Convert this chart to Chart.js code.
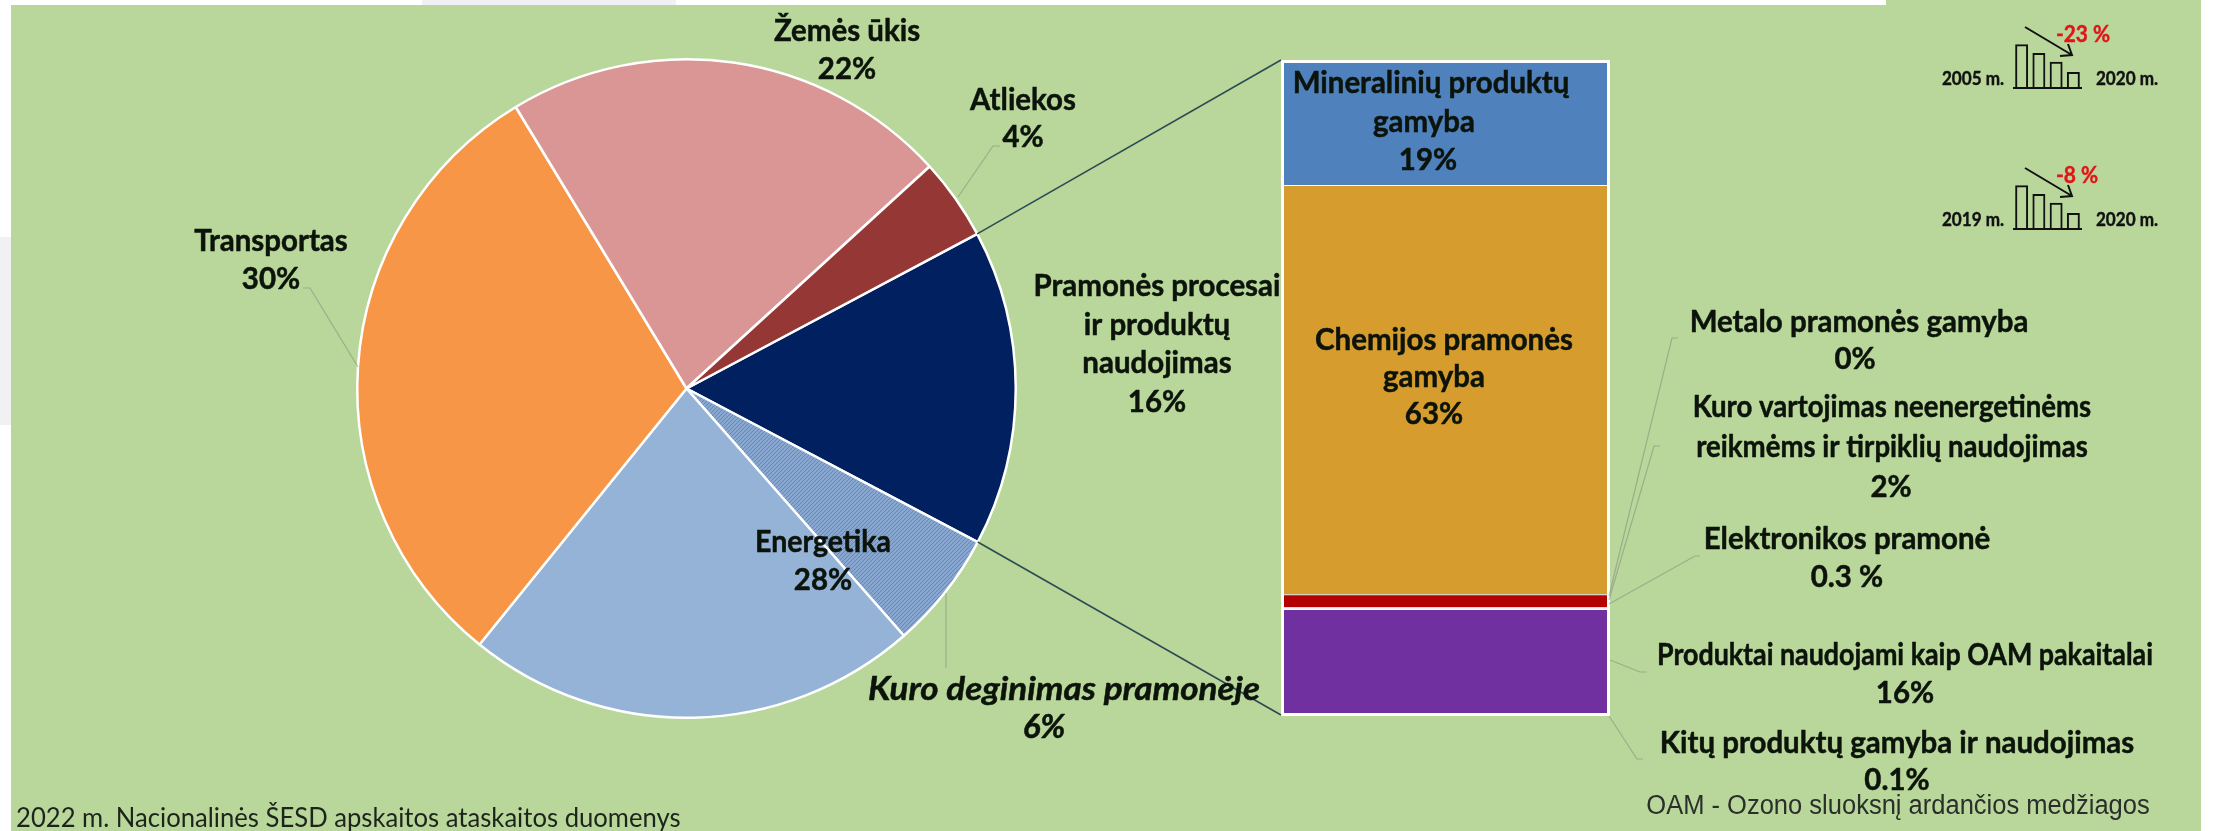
<!DOCTYPE html>
<html lang="lt">
<head>
<meta charset="utf-8">
<title>ŠESD</title>
<script src="https://cdn.jsdelivr.net/npm/chart.js@4"></script>
<style>
html,body{margin:0;padding:0;background:#fff;width:2213px;height:831px;overflow:hidden}
.abs{position:absolute}
canvas{position:absolute}
</style>
</head>
<body>
<div class="abs" style="left:422px;top:0;width:254px;height:5px;background:#f1f1f3"></div>
<div class="abs" style="left:0;top:237px;width:11px;height:188px;background:#f1f1f3"></div>
<div class="abs" style="left:11px;top:5px;width:2190px;height:826px;background:#b9d79a"></div>
<div class="abs" style="left:1886px;top:0;width:315px;height:5px;background:#b9d79a"></div>
<canvas id="bar" style="left:1280px;top:59px" width="331" height="658"></canvas>
<canvas id="icon1" style="left:2010px;top:40px" width="75" height="50"></canvas>
<canvas id="icon2" style="left:2010px;top:181px" width="75" height="50"></canvas>
<canvas id="pie" style="left:0;top:0" width="2213" height="831"></canvas>
<script>
// ---- Data ----
const pieCategories = ['Pramonės procesai ir produktų naudojimas', 'Kuro deginimas pramonėje', 'Energetika', 'Transportas', 'Žemės ūkis', 'Atliekos'];
const pieValues = [15.5, 5.8, 22.3, 30.5, 21.9, 4.0];
const pieColors = ['#002060', null, '#95b3d7', '#f79646', '#d99694', '#953735'];

const barCategories = ['Kitų produktų gamyba ir naudojimas', 'Produktai naudojami kaip OAM pakaitalai', 'Elektronikos pramonė', 'Kuro vartojimas neenergetinėms reikmėms ir tirpiklių naudojimas', 'Metalo pramonės gamyba', 'Chemijos pramonės gamyba', 'Mineralinių produktų gamyba'];
const barValues = [0.1, 16, 0.3, 2, 0, 63, 19];
const barColors = ['#ffffff', '#7030a0', '#fdf2f4', '#b30000', '#808080', '#d69c2d', '#4f81bd'];

const iconBars = [137, 109, 82, 50];
const iconLabels = ['a', 'b', 'c', 'd'];

const footerText = '2022 m. Nacionalinės ŠESD apskaitos ataskaitos duomenys';
const noteText = 'OAM - Ozono sluoksnį ardančios medžiagos';

// ---- Label layout ----
const BOLD = 'bold 31px Lato';
const boldLabels = [
  {cx:[847],ys:[31,69],   lines:['Žemės ūkis','22%']},
  {cx:[1023],ys:[100,137], lines:['Atliekos','4%']},
  {cx:[271], ys:[241,279], lines:['Transportas','30%']},
  {cx:[1157],ys:[286,325,363,402], lines:['Pramonės procesai','ir produktų','naudojimas','16%']},
  {cx:[823,823],ys:[542,580], lines:['Energetika','28%'],hs:.92},
  {cx:[1431,1424,1428],ys:[83,122,160], lines:['Mineralinių produktų','gamyba','19%']},
  {cx:[1444,1434,1434],ys:[340,377,414], lines:['Chemijos pramonės','gamyba','63%']},
  {cx:[1859,1855],ys:[322,359], lines:['Metalo pramonės gamyba','0%']},
  {cx:[1892,1892,1891],ys:[407,447,487], lines:['Kuro vartojimas neenergetinėms','reikmėms ir tirpiklių naudojimas','2%'],hs:.89},
  {cx:[1847],ys:[539,577], lines:['Elektronikos pramonė','0.3 %']},
  {cx:[1905],ys:[655,693], lines:['Produktai naudojami kaip OAM pakaitalai','16%'],hs:.865},
  {cx:[1897],ys:[743,780], lines:['Kitų produktų gamyba ir naudojimas','0.1%']}
];
const leaders = [
  [[303,288],[310,288],[358,367]],
  [[1000,146],[993,146],[958,197]],
  [[946,593],[946,668]],
  [[1678,338],[1672,338],[1609,596]],
  [[1660,446],[1654,446],[1609,600]],
  [[1700,556],[1695,556],[1609,604]],
  [[1647,672],[1640,672],[1610,660]],
  [[1643,759],[1637,759],[1609,716]]
];
const iconTexts = [
  {t:'2005 m.',x:1973,y:79},{t:'2020 m.',x:2127,y:79},
  {t:'2019 m.',x:1973,y:220},{t:'2020 m.',x:2127,y:220}
];
const iconDeltas = [{t:'-23 %',x:2083,y:35},{t:'-8 %',x:2077,y:176}];
const iconArrows = [[2025,27,2072,55],[2025,168,2072,196]];

// ---- Hatch for the fuel combustion slice ----
function hatch(){
  const c=document.createElement('canvas');c.width=4;c.height=4;
  const g=c.getContext('2d');
  g.fillStyle='#88a7d0';g.fillRect(0,0,4,4);
  g.fillStyle='#6488bc';
  [[0,3],[1,2],[2,1],[3,0]].forEach(p=>g.fillRect(p[0],p[1],1,1));
  return g.createPattern(c,'repeat');
}

Chart.defaults.animation=false;
Chart.defaults.responsive=false;

// ---- Stacked bar ----
const barChart=new Chart(document.getElementById('bar'),{
  type:'bar',
  data:{labels:['Pramonės procesai'],datasets:barCategories.map((n,i)=>({
    label:n,data:[barValues[i]],backgroundColor:barColors[i],
    borderColor:'#ffffff',borderWidth:barValues[i]>=1?1:0,
    barPercentage:1,categoryPercentage:1
  }))},
  options:{
    layout:{padding:3},
    plugins:{legend:{display:false},tooltip:{enabled:false}},
    scales:{
      x:{stacked:true,display:false},
      y:{stacked:true,display:false,min:0,max:barValues.reduce((a,b)=>a+b,0)}
    }
  },
  plugins:[{id:'frame',afterDraw(ch){
    const a=ch.chartArea,c=ch.ctx;
    c.save();c.strokeStyle='#ffffff';c.lineWidth=3;
    c.strokeRect(a.left-.5,a.top-.5,a.width+1,a.height+1);c.restore();
  }}]
});

// ---- Small icon bars ----
['icon1','icon2'].forEach(id=>new Chart(document.getElementById(id),{
  type:'bar',
  data:{labels:iconLabels,datasets:[{data:iconBars,backgroundColor:'rgba(0,0,0,0)',borderColor:'#111',borderWidth:2,barPercentage:.75,categoryPercentage:1}]},
  options:{
    layout:{padding:{left:3,right:3,top:0,bottom:2}},
    plugins:{legend:{display:false},tooltip:{enabled:false}},
    scales:{x:{display:false},y:{display:false,min:0,max:150}}
  },
  plugins:[{id:'base',afterDraw(ch){
    const a=ch.chartArea,c=ch.ctx;
    c.save();c.strokeStyle='#111';c.lineWidth=2;c.beginPath();c.moveTo(a.left,a.bottom);c.lineTo(a.right,a.bottom);c.stroke();c.restore();
  }}]
}));

// ---- Text helper ----
function txt(c,t,cx,cy,font,color,hs,align,heavy){
  c.save();c.font=font;c.fillStyle=color;c.textAlign=align||'center';c.textBaseline='middle';
  c.translate(cx,cy);c.scale(hs,1);
  if(heavy){c.strokeStyle=color;c.lineWidth=heavy;c.lineJoin='round';c.strokeText(t,0,0);}
  c.fillText(t,0,0);c.restore();
}

// ---- Annotations on top ----
const annotate={id:'annotate',afterDraw(ch){
  const c=ch.ctx,arcs=ch.getDatasetMeta(0).data;
  c.save();
  // leaders
  c.strokeStyle='rgba(130,140,125,.55)';c.lineWidth=1.2;
  leaders.forEach(l=>{c.beginPath();l.forEach((p,i)=>i?c.lineTo(p[0],p[1]):c.moveTo(p[0],p[1]));c.stroke();});
  // zoom connectors from the industrial slice to the bar
  const cv=document.getElementById('bar'),oX=parseFloat(cv.style.left),oY=parseFloat(cv.style.top),ba=barChart.chartArea;
  const a0=arcs[0];
  const pts=[[a0.startAngle,ba.top-2],[a0.endAngle,ba.bottom+1]];
  c.strokeStyle='#2c4b52';c.lineWidth=1.6;
  pts.forEach(p=>{
    c.beginPath();
    c.moveTo(a0.x+Math.cos(p[0])*a0.outerRadius,a0.y+Math.sin(p[0])*a0.outerRadius);
    c.lineTo(oX+ba.left-2,oY+p[1]);c.stroke();
  });
  // bold labels
  boldLabels.forEach(b=>b.lines.forEach((t,i)=>{
    const s=t.length>4?(b.hs||.95):.95;
    txt(c,t,b.cx[i]===undefined?b.cx[0]:b.cx[i],b.ys[i],BOLD,'#0b130b',s,'center',.5);
  }));
  txt(c,'Kuro deginimas pramonėje',1064,689,'italic bold 33px Lato','#0b130b',1.06,'center',.5);
  txt(c,'6%',1044,727,'italic bold 33px Lato','#0b130b',1,'center',.5);
  txt(c,footerText,16,818,'27px Lato','#1c241c',.95,'left');
  txt(c,noteText,1898,807,'27px "Liberation Sans"','#2b2f2b',.945);
  // icons
  iconTexts.forEach(o=>txt(c,o.t,o.x,o.y,'bold 18px Lato','#111',.95,'center',.4));
  iconDeltas.forEach(o=>txt(c,o.t,o.x,o.y,'bold 22px Lato','#e2141a',.95,'center',.4));
  c.strokeStyle='#111';c.lineWidth=2;
  iconArrows.forEach(a=>{
    c.beginPath();c.moveTo(a[0],a[1]);c.lineTo(a[2],a[3]);
    c.moveTo(a[2]-4,a[3]-11);c.lineTo(a[2],a[3]);c.lineTo(a[2]-12,a[3]+1);c.stroke();
  });
  c.restore();
}};

// ---- Pie ----
const colors=pieColors.slice();colors[1]=hatch();
new Chart(document.getElementById('pie'),{
  type:'pie',
  data:{labels:pieCategories,datasets:[{data:pieValues,backgroundColor:colors,borderColor:'#ffffff',borderWidth:2.5,borderAlign:'center',hoverOffset:0}]},
  options:{
    rotation:62,
    layout:{padding:{left:356,right:1196,top:58,bottom:112}},
    plugins:{legend:{display:false},tooltip:{enabled:false}}
  },
  plugins:[annotate]
});
</script>
</body>
</html>
